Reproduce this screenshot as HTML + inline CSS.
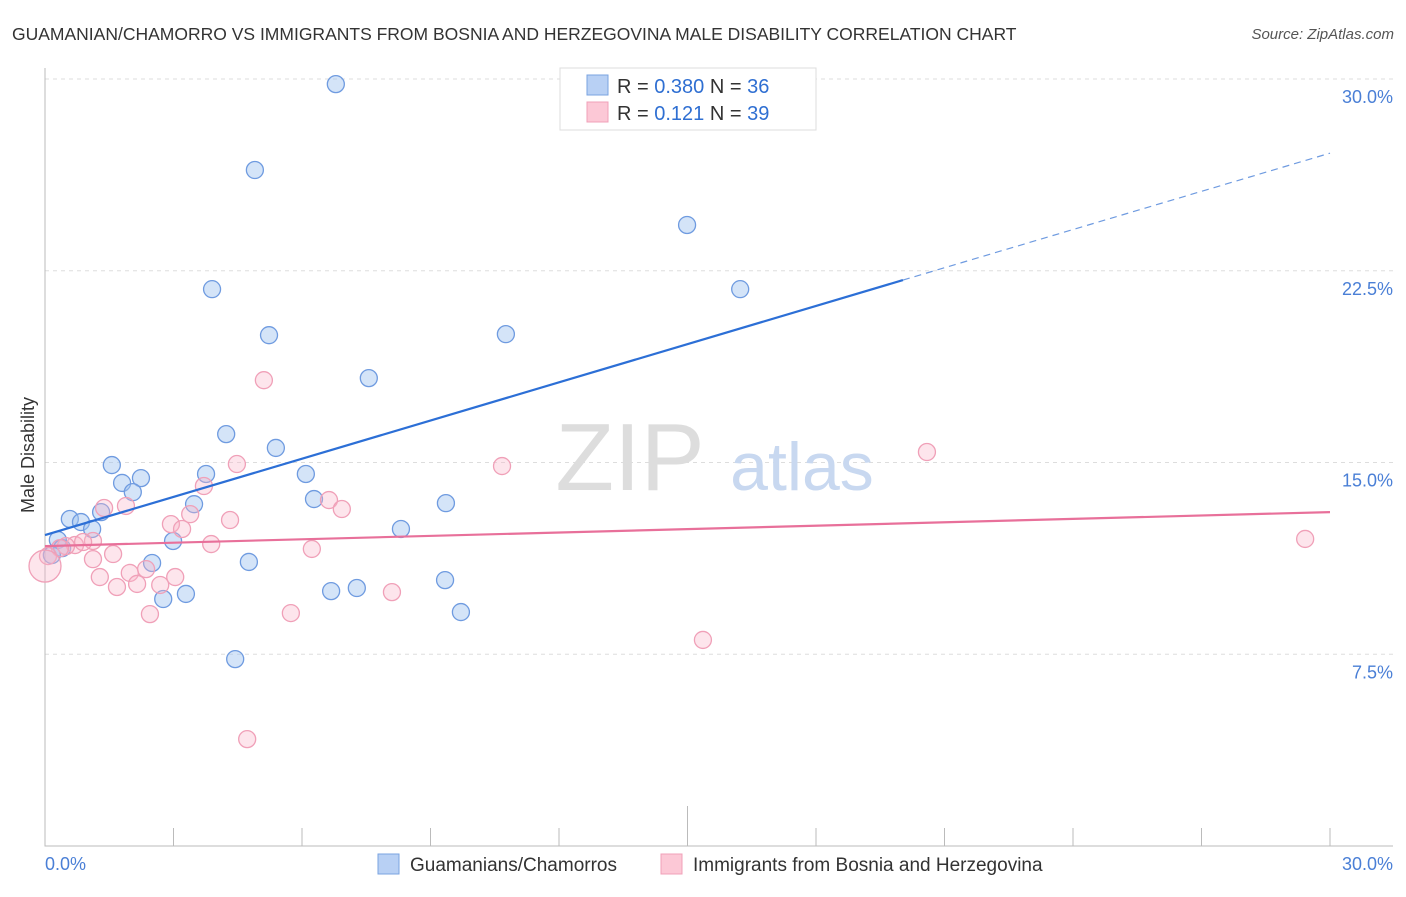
<!DOCTYPE html>
<html><head><meta charset="utf-8"><style>
body{margin:0;background:#fff;font-family:"Liberation Sans",sans-serif}
svg text{font-family:"Liberation Sans",sans-serif}
</style></head><body>
<svg width="1406" height="892" xmlns="http://www.w3.org/2000/svg">
<text x="12" y="40" font-size="17.5" fill="#333">GUAMANIAN/CHAMORRO VS IMMIGRANTS FROM BOSNIA AND HERZEGOVINA MALE DISABILITY CORRELATION CHART</text>
<text x="1394" y="39" font-size="15" fill="#555" font-style="italic" text-anchor="end">Source: ZipAtlas.com</text>
<g id="grid"></g>
<text x="630" y="490" font-size="96" fill="#ddd" font-family="Liberation Serif" text-anchor="middle">ZIP</text>
<text x="802" y="490" font-size="68" fill="#c8d8f0" text-anchor="middle">atlas</text>
<text transform="translate(34,455) rotate(-90)" font-size="18" fill="#333" text-anchor="middle">Male Disability</text>
<g id="pts"></g>
<g id="lines"></g>
<g>
<rect x="560" y="68" width="256" height="62" fill="#fff" stroke="#ddd"/>
<rect x="587" y="75" width="21" height="20" fill="#b8d0f4" stroke="#7aa3e0"/>
<rect x="587" y="102" width="21" height="20" fill="#fcc8d6" stroke="#f0a0b8"/>
<text x="617" y="93" font-size="20" fill="#333">R = <tspan fill="#2f6fd2">0.380</tspan>   N = <tspan fill="#2f6fd2">36</tspan></text>
<text x="617" y="120" font-size="20" fill="#333">R =   <tspan fill="#2f6fd2">0.121</tspan>   N = <tspan fill="#2f6fd2">39</tspan></text>
</g>
<g>
<rect x="378" y="854" width="21" height="20" fill="#b8d0f4" stroke="#7aa3e0"/>
<text x="410" y="871" font-size="19" fill="#333">Guamanians/Chamorros</text>
<rect x="661" y="854" width="21" height="20" fill="#fcc8d6" stroke="#f0a0b8"/>
<text x="693" y="871" font-size="19" fill="#333">Immigrants from Bosnia and Herzegovina</text>
</g>
</svg>
<script>
const yTicks=[7.5,15,22.5,30];
const yTickLabels=["7.5%","15.0%","22.5%","30.0%"];
const xTickLabels=["0.0%","30.0%"];
const blueX=[6.79,4.90,14.99,3.90,16.23,5.23,10.76,7.56,4.23,5.39,1.56,6.09,3.76,2.24,1.80,2.05,6.28,9.36,3.48,1.31,0.58,0.84,1.10,8.31,2.99,0.30,0.40,0.16,2.50,4.76,9.34,7.28,6.68,3.29,2.76,9.71,4.44];
const blueY=[29.8,26.44,24.29,21.78,21.78,19.98,20.02,18.30,16.11,15.57,14.90,14.55,14.55,14.39,14.20,13.84,13.57,13.41,13.37,13.06,12.79,12.67,12.40,12.40,11.93,11.97,11.65,11.38,11.07,11.11,10.40,10.09,9.97,9.86,9.66,9.15,7.31];
const pinkX=[5.11,10.67,20.59,4.48,3.71,6.63,6.93,1.89,1.38,3.39,4.32,2.94,3.20,29.42,1.12,0.70,0.49,0.89,0.35,3.88,6.23,1.59,1.12,0.07,2.36,1.98,1.28,3.04,2.69,2.15,1.68,8.10,5.74,2.45,15.36,4.72,0.0];
const pinkY=[18.22,14.86,15.41,14.94,14.08,13.53,13.18,13.30,13.22,12.98,12.75,12.59,12.40,12.01,11.93,11.77,11.73,11.89,11.65,11.81,11.62,11.42,11.22,11.34,10.83,10.68,10.52,10.52,10.21,10.25,10.13,9.93,9.11,9.07,8.06,4.18,10.95];
const blueTrend=[12.16,27.1];
const pinkTrend=[11.73,13.06];
const NS="http://www.w3.org/2000/svg";
const X=v=>45+v*(1285/30), Y=v=>846-v*(767/30);
function mk(tag,at,par){const e=document.createElementNS(NS,tag);for(const k in at)e.setAttribute(k,at[k]);par.appendChild(e);return e;}
const g=document.getElementById('grid');
yTicks.forEach((t,i)=>{
 const l=mk('line',{x1:45,x2:1393,y1:Y(t),y2:Y(t),stroke:'#ddd','stroke-dasharray':'4,4'},g);
 
 
 const tx=mk('text',{x:1393,y:Y(t)+24,'font-size':18,fill:'#4a7fd6','text-anchor':'end'},g);
 tx.textContent=yTickLabels[i];
 
 
});
const ax=mk('path',{d:'M45 68V846H1393',stroke:'#bbb',fill:'none'},g);


for(let i=1;i<=10;i++){
 const t=mk('line',{x1:X(i*3),x2:X(i*3),y1:i==5?806:828,y2:846,stroke:'#bbb'},g);
 
 
}
[[0,'start',45],[30,'end',1393]].forEach((d,i)=>{
 const tx=mk('text',{x:d[2],y:870,'font-size':18,fill:'#4a7fd6','text-anchor':d[1]},g);
 tx.textContent=xTickLabels[i];
 
 
});
const p=document.getElementById('pts');
blueX.forEach((x,i)=>{
 const c=mk('circle',{cx:X(x),cy:Y(blueY[i]),r:8.5,fill:'rgba(160,195,240,0.45)',stroke:'#6f9be0','stroke-width':1.3},p);
 
 
});
pinkX.forEach((x,i)=>{
 const c=mk('circle',{cx:X(x),cy:Y(pinkY[i]),r:i==pinkX.length-1?16:8.5,fill:'rgba(248,180,200,0.35)',stroke:'#f0a0b8','stroke-width':1.3},p);
 
 
});
const L=document.getElementById('lines');
const bx=20.03, by=blueTrend[0]+(blueTrend[1]-blueTrend[0])*bx/30;
let e=mk('line',{x1:X(0),y1:Y(blueTrend[0]),x2:X(bx),y2:Y(by),stroke:'#2c6fd6','stroke-width':2.2},L);


e=mk('line',{x1:X(bx),y1:Y(by),x2:X(30),y2:Y(blueTrend[1]),stroke:'#6f9be0','stroke-width':1.2,'stroke-dasharray':'7,5'},L);


e=mk('line',{x1:X(0),y1:Y(pinkTrend[0]),x2:X(30),y2:Y(pinkTrend[1]),stroke:'#e8709a','stroke-width':2.2},L);


</script>
</body></html>
